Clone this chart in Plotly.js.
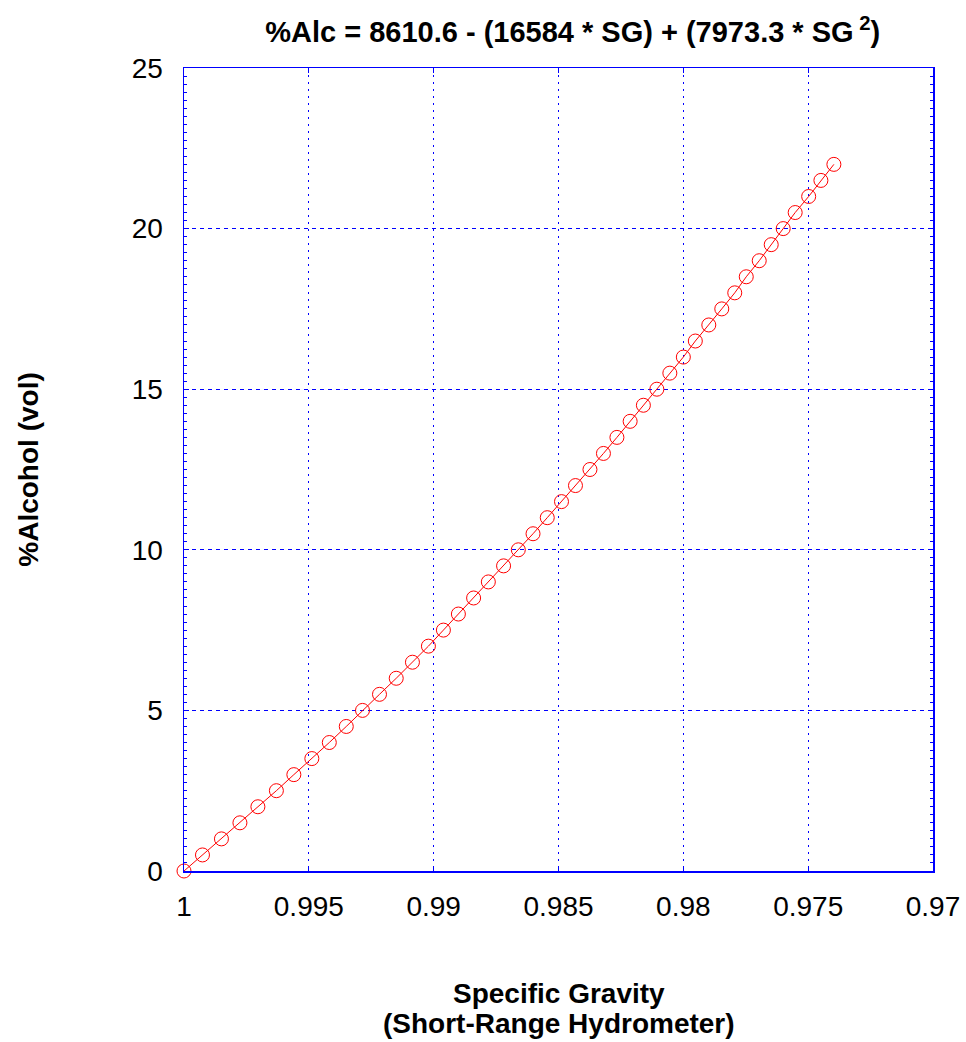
<!DOCTYPE html>
<html>
<head>
<meta charset="utf-8">
<script src="https://cdn.plot.ly/plotly-3.0.1.min.js"></script>
<style>html,body{margin:0;padding:0;background:#fff;}#chart{width:966px;height:1042px;}</style>
</head>
<body>
<div id="chart"></div>
<script>
const specificGravity = [1.0000, 0.99926, 0.99850, 0.99776, 0.99704, 0.99630, 0.99560, 0.99488, 0.99418, 0.99350,
  0.99285, 0.99217, 0.99150, 0.99085, 0.99021, 0.98961, 0.98901, 0.98840, 0.98781, 0.98720,
  0.98661, 0.98602, 0.98545, 0.98488, 0.98432, 0.98374, 0.98320, 0.98266, 0.98213, 0.98160,
  0.98106, 0.98054, 0.98000, 0.97952, 0.97898, 0.97846, 0.97794, 0.97748, 0.97696, 0.97648,
  0.97600, 0.97552, 0.97498, 0.97449, 0.97397];
const alcoholPct = [0, 0.5, 1, 1.5, 2, 2.5, 3, 3.5, 4, 4.5, 5, 5.5, 6, 6.5, 7, 7.5, 8, 8.5, 9, 9.5,
  10, 10.5, 11, 11.5, 12, 12.5, 13, 13.5, 14, 14.5, 15, 15.5, 16, 16.5, 17, 17.5, 18, 18.5, 19, 19.5,
  20, 20.5, 21, 21.5, 22];
const xTickVals = [1, 0.995, 0.99, 0.985, 0.98, 0.975, 0.97];
const xTickText = ['1', '0.995', '0.99', '0.985', '0.98', '0.975', '0.97'];
const yTickVals = [0, 5, 10, 15, 20, 25];

const font = 'Liberation Sans, Arial, Helvetica, sans-serif';
const trace = {
  x: specificGravity, y: alcoholPct, type: 'scatter', mode: 'lines+markers',
  line: {color: '#ff0000', width: 1},
  marker: {symbol: 'circle-open', size: 14, color: '#ff0000', line: {width: 1, color: '#ff0000'}},
  hoverinfo: 'x+y', cliponaxis: false
};
const layout = {
  width: 966, height: 1042,
  margin: {l: 184, r: 33, t: 68, b: 171},
  paper_bgcolor: '#fff', plot_bgcolor: '#fff',
  showlegend: false,
  font: {family: font, color: '#000'},
  title: {text: '<b>%Alc = 8610.6 - (16584 * SG) + (7973.3 * SG<sup> 2</sup>)</b>',
    font: {family: font, size: 29, color: '#000'}, x: 0.519, xref: 'paper', xanchor: 'center', y: 0.969, yref: 'container', yanchor: 'middle'},
  xaxis: {
    range: [1, 0.97], autorange: false,
    tickvals: xTickVals, ticktext: xTickText,
    tickfont: {size: 28, family: font, color: '#000'},
    ticks: 'inside', ticklen: 5, tickcolor: '#0000ff', ticklabelstandoff: 10,
    showline: true, linecolor: '#0000ff', linewidth: 1.5, mirror: 'allticks',
    showgrid: true, gridcolor: 'rgb(0,0,255)', gridwidth: 1, griddash: '2px,5px',
    zeroline: false
  },
  yaxis: {
    range: [0, 25], autorange: false,
    tickvals: yTickVals,
    tickfont: {size: 28, family: font, color: '#000'},
    ticks: 'inside', ticklen: 5, tickcolor: '#0000ff', ticklabelstandoff: 14,
    minor: {dtick: 0.25, ticks: 'inside', ticklen: 3, tickcolor: '#0000ff', showgrid: false},
    showline: true, linecolor: '#0000ff', linewidth: 1.5, mirror: 'allticks',
    showgrid: true, gridcolor: 'rgb(0,0,255)', gridwidth: 1, griddash: '4px,4px',
    zeroline: false
  },
  annotations: [
    {text: '<b>Specific Gravity</b>', xref: 'paper', yref: 'paper', x: 0.5, y: -0.152, xanchor: 'center', yanchor: 'middle', showarrow: false, font: {size: 28, family: font, color: '#000'}},
    {text: '<b>(Short-Range Hydrometer)</b>', xref: 'paper', yref: 'paper', x: 0.5, y: -0.19, xanchor: 'center', yanchor: 'middle', showarrow: false, font: {size: 28, family: font, color: '#000'}},
    {text: '<b>%Alcohol (vol)</b>', xref: 'paper', yref: 'paper', x: -0.208, xanchor: 'center', y: 0.5, yanchor: 'middle', textangle: -90, showarrow: false, font: {size: 28, family: font, color: '#000'}}
  ]
};
Plotly.newPlot('chart', [trace], layout, {displayModeBar: false, staticPlot: true});
</script>
</body>
</html>
